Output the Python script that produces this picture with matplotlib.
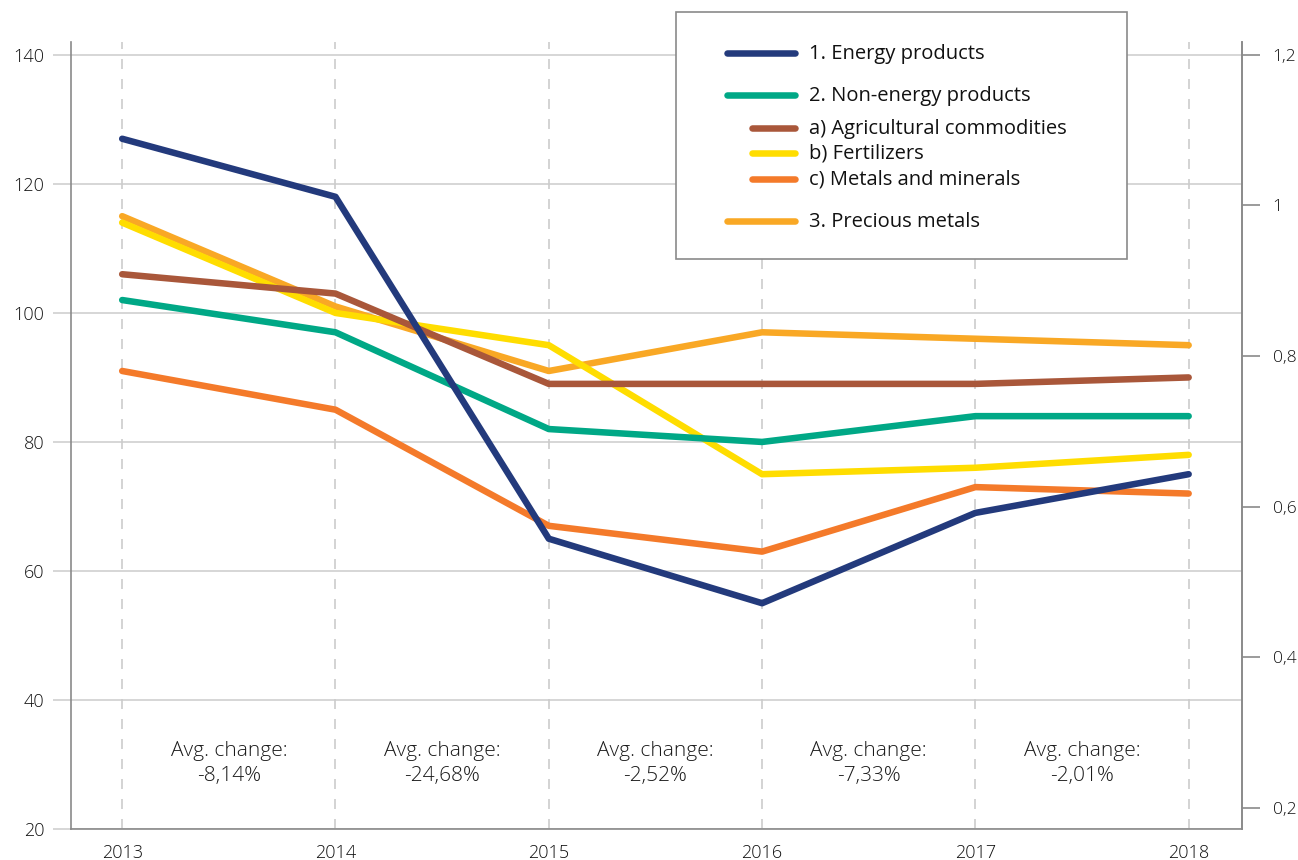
import matplotlib
matplotlib.use("Agg")
import matplotlib.pyplot as plt
from matplotlib.lines import Line2D
from matplotlib.patches import Rectangle
from matplotlib.ticker import FuncFormatter

plt.rcParams['font.family'] = ['Open Sans', 'DejaVu Sans']

years = [2013, 2014, 2015, 2016, 2017, 2018]

# index values
energy = [127, 118, 65, 55, 69, 75]
non_energy = [102, 97, 82, 80, 84, 84]
agricultural = [106, 103, 89, 89, 89, 90]
fertilizers = [114, 100, 95, 75, 76, 78]
metals = [91, 85, 67, 63, 73, 72]
precious = [115, 101, 91, 97, 96, 95]

labels = ["1. Energy products", "2. Non-energy products", "a) Agricultural commodities",
          "b) Fertilizers", "c) Metals and minerals", "3. Precious metals"]
colors = ["#233a7c", "#00a886", "#a9573a", "#ffdd00", "#f47a2a", "#f9a825"]
series = [energy, non_energy, agricultural, fertilizers, metals, precious]
sub_item = [False, False, True, True, True, False]

avg_change = ["-8,14%", "-24,68%", "-2,52%", "-7,33%", "-2,01%"]

W, H = 1298, 860
fig = plt.figure(figsize=(W / 100, H / 100), dpi=100)
ax = fig.add_axes([71 / W, 1 - 829 / H, (1242 - 71) / W, (829 - 42) / H])

# draw order: precious at the bottom, energy on top
for i in [5, 3, 4, 2, 1, 0]:
    ax.plot(years, series[i], color=colors[i], lw=4.7, solid_capstyle='round', zorder=3 + (5 - i) * 0.1)

ax.set_xlim(2012.76, 2018.25)
ax.set_ylim(20, 142)
ax.set_yticks(range(20, 141, 20))
ax.set_xticks(years)
ax.grid(axis='y', color='#d0d0d0', lw=1.2)
for y in years:
    ax.axvline(y, color='#cccccc', lw=1.2, dashes=(6, 6), zorder=1)
ax.set_axisbelow(True)

ax.spines['top'].set_visible(False)
for side in ['left', 'bottom', 'right']:
    ax.spines[side].set_color('#8a8a8a')
    ax.spines[side].set_linewidth(1.2)
ax.tick_params(axis='y', length=13, color='#d0d0d0', width=1.2, labelsize=13, labelcolor='#111111', pad=6)
ax.tick_params(axis='x', length=0, labelsize=13, labelcolor='#111111', pad=11)
for t in ax.get_xticklabels() + ax.get_yticklabels():
    t.set_fontweight('light')

ax2 = ax.twinx()
ax2.set_ylim(0.172, 1.217)
ax2.set_yticks([0.2, 0.4, 0.6, 0.8, 1.0, 1.2])
ax2.yaxis.set_major_formatter(FuncFormatter(lambda v, p: ('%g' % round(v, 1)).replace('.', ',')))
for side in ['top', 'left', 'bottom']:
    ax2.spines[side].set_visible(False)
ax2.spines['right'].set_color('#8a8a8a')
ax2.spines['right'].set_linewidth(1.2)
ax2.tick_params(axis='y', length=13, color='#8a8a8a', width=1.2, labelsize=12.5, labelcolor='#111111', pad=9)
for t in ax2.get_yticklabels():
    t.set_fontweight('light')

for k, txt in enumerate(avg_change):
    ax.text(years[k] + 0.5, 30.2, "Avg. change:\n" + txt, ha='center', va='center',
            fontsize=15, fontweight='light', color='#1a1a1a', linespacing=1.35, zorder=4)

# legend box drawn by hand (sub-items have shorter handles)
def fx(px):
    return px / W

def fy(py):
    return 1 - py / H

fig.add_artist(Rectangle((fx(676), fy(259)), fx(1127) - fx(676), fy(12) - fy(259),
                         transform=fig.transFigure, facecolor='white', edgecolor='#8a8a8a', lw=1.2, zorder=10))
rows_y = [53, 95, 128, 153, 179, 221]
for i, lab in enumerate(labels):
    x0 = 752 if sub_item[i] else 727
    fig.add_artist(Line2D([fx(x0), fx(795)], [fy(rows_y[i])] * 2, transform=fig.transFigure,
                          color=colors[i], lw=4.7, solid_capstyle='round', zorder=11))
    fig.text(fx(809), fy(rows_y[i] + 1), lab, ha='left', va='center', fontsize=14.5, color='#111111', zorder=11)

fig.savefig("out.png", dpi=100)
